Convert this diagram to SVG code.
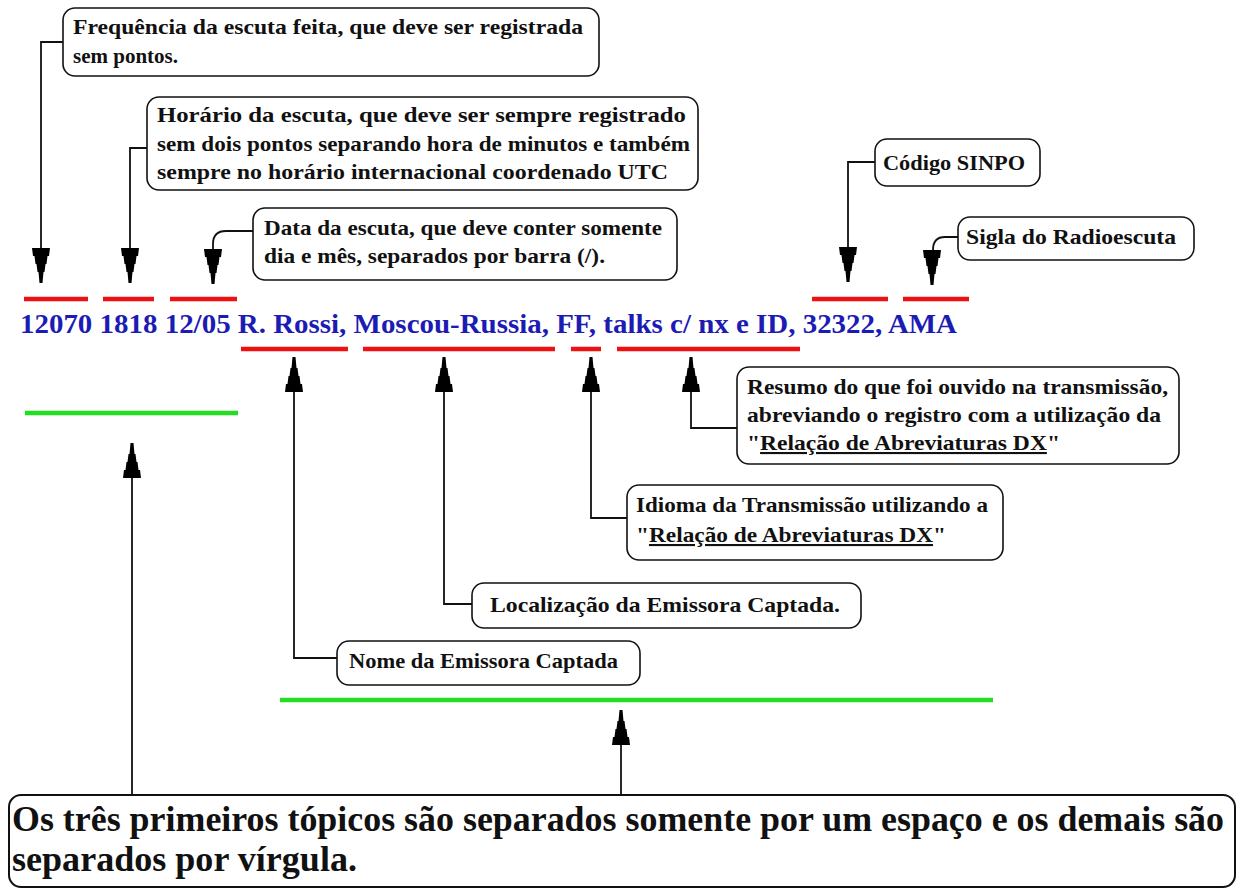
<svg xmlns="http://www.w3.org/2000/svg" width="1243" height="892" viewBox="0 0 1243 892">
<defs>
<style>
.box{fill:#fff;stroke:#111;stroke-width:1.6}
.ff{font-family:"Liberation Serif","DejaVu Serif Condensed","DejaVu Serif",serif;font-weight:bold;font-stretch:condensed}
.t{font-size:21px;fill:#111}
.main{font-size:27px;fill:#1c1cb4}
.big{font-size:35px;fill:#111}
.c{fill:none;stroke:#111;stroke-width:1.8}
.red{stroke:#ee1111;stroke-width:4.5}
.green{stroke:#22dd22;stroke-width:4.5}
.u{text-decoration:underline}
</style>
<path id="ad" d="M-9,-35 L9,-35 L8,-27 L6.5,-27 L5.5,-19 L4.5,-19 L3.5,-11 L2.5,-11 L1.5,0 L-1.5,0 L-2.5,-11 L-3.5,-11 L-4.5,-19 L-5.5,-19 L-6.5,-27 L-8,-27 Z" fill="#000"/>
<path id="au" d="M-9,35 L9,35 L8,27 L6.5,27 L5.5,19 L4.5,19 L3.5,11 L2.5,11 L1.5,0 L-1.5,0 L-2.5,11 L-3.5,11 L-4.5,19 L-5.5,19 L-6.5,27 L-8,27 Z" fill="#000"/>
</defs>
<rect width="1243" height="892" fill="#fff"/>

<g id="connectors">
<path class="c" d="M63,42 H41 V250"/>
<path class="c" d="M147,148 H130 V250"/>
<path class="c" d="M253,231 H226 Q213,231 213,244 V251"/>
<path class="c" d="M875,162 H848 V249"/>
<path class="c" d="M958,237 H945 Q933,237 933,250 V252"/>
<path class="c" d="M294,390 V658 H337"/>
<path class="c" d="M444,390 V604 H472"/>
<path class="c" d="M591,390 V518 H627"/>
<path class="c" d="M691,390 V428 H737"/>
<path class="c" d="M132,476 V795"/>
<path class="c" d="M621,743 V795"/>
<use href="#ad" x="41" y="283"/>
<use href="#ad" x="130" y="283"/>
<use href="#ad" x="213" y="284"/>
<use href="#ad" x="848" y="282"/>
<use href="#ad" x="932" y="285"/>
<use href="#au" x="294" y="357"/>
<use href="#au" x="444" y="357"/>
<use href="#au" x="591" y="357"/>
<use href="#au" x="691" y="357"/>
<use href="#au" x="132" y="443"/>
<use href="#au" x="621" y="710"/>
</g>

<g id="marks">
<line class="red" x1="24" y1="299" x2="88" y2="299"/>
<line class="red" x1="103" y1="299" x2="154" y2="299"/>
<line class="red" x1="170" y1="299" x2="237" y2="299"/>
<line class="red" x1="812" y1="299" x2="888" y2="299"/>
<line class="red" x1="903" y1="299" x2="969" y2="299"/>
<line class="red" x1="241" y1="349" x2="348" y2="349"/>
<line class="red" x1="363" y1="349" x2="555" y2="349"/>
<line class="red" x1="571" y1="349" x2="601" y2="349"/>
<line class="red" x1="617" y1="349" x2="800" y2="349"/>
<line class="green" x1="25" y1="413" x2="238" y2="413"/>
<line class="green" x1="280" y1="700" x2="993" y2="700"/>
</g>

<g class="ff">
<g id="record">
<text class="main" x="20" y="333" textLength="937" lengthAdjust="spacingAndGlyphs">12070 1818 12/05 R. Rossi, Moscou-Russia, FF, talks c/ nx e ID, 32322, AMA</text>
</g>

<g id="n-frequencia">
<rect class="box" x="63" y="8" width="536" height="68" rx="12"/>
<text class="t" x="73" y="34" textLength="510" lengthAdjust="spacingAndGlyphs">Frequência da escuta feita, que deve ser registrada</text>
<text class="t" x="73" y="63" textLength="105" lengthAdjust="spacingAndGlyphs">sem pontos.</text>
</g>

<g id="n-horario">
<rect class="box" x="147" y="97" width="551" height="93" rx="12"/>
<text class="t" x="157" y="122" textLength="529" lengthAdjust="spacingAndGlyphs">Horário da escuta, que deve ser sempre registrado</text>
<text class="t" x="157" y="151" textLength="533" lengthAdjust="spacingAndGlyphs">sem dois pontos separando hora de minutos e também</text>
<text class="t" x="157" y="179" textLength="511" lengthAdjust="spacingAndGlyphs">sempre no horário internacional coordenado UTC</text>
</g>

<g id="n-data">
<rect class="box" x="253" y="208" width="424" height="72" rx="12"/>
<text class="t" x="264" y="235" textLength="398" lengthAdjust="spacingAndGlyphs">Data da escuta, que deve conter somente</text>
<text class="t" x="264" y="263" textLength="341" lengthAdjust="spacingAndGlyphs">dia e mês, separados por barra (/).</text>
</g>

<g id="n-sinpo">
<rect class="box" x="875" y="139" width="165" height="47" rx="12"/>
<text class="t" x="883" y="170" textLength="142" lengthAdjust="spacingAndGlyphs">Código SINPO</text>
</g>

<g id="n-sigla">
<rect class="box" x="958" y="217" width="236" height="43" rx="12"/>
<text class="t" x="966" y="244" textLength="210" lengthAdjust="spacingAndGlyphs">Sigla do Radioescuta</text>
</g>

<g id="n-resumo">
<rect class="box" x="737" y="367" width="442" height="97" rx="12"/>
<text class="t" x="747" y="394" textLength="421" lengthAdjust="spacingAndGlyphs">Resumo do que foi ouvido na transmissão,</text>
<text class="t" x="747" y="422" textLength="414" lengthAdjust="spacingAndGlyphs">abreviando o registro com a utilização da</text>
<text class="t" x="747" y="450" textLength="313" lengthAdjust="spacingAndGlyphs">"<tspan class="u">Relação de Abreviaturas DX</tspan>"</text>
</g>

<g id="n-idioma">
<rect class="box" x="627" y="485" width="376" height="75" rx="12"/>
<text class="t" x="636" y="512" textLength="352" lengthAdjust="spacingAndGlyphs">Idioma da Transmissão utilizando a</text>
<text class="t" x="636" y="542" textLength="310" lengthAdjust="spacingAndGlyphs">"<tspan class="u">Relação de Abreviaturas DX</tspan>"</text>
</g>

<g id="n-localizacao">
<rect class="box" x="472" y="583" width="389" height="45" rx="12"/>
<text class="t" x="490" y="612" textLength="350" lengthAdjust="spacingAndGlyphs">Localização da Emissora Captada.</text>
</g>

<g id="n-nome">
<rect class="box" x="337" y="641" width="303" height="44" rx="12"/>
<text class="t" x="349" y="668" textLength="269" lengthAdjust="spacingAndGlyphs">Nome da Emissora Captada</text>
</g>

<g id="n-nota">
<rect class="box" x="9" y="795" width="1226" height="92" rx="12" style="stroke-width:2"/>
<text class="big" x="12" y="831" textLength="1212" lengthAdjust="spacingAndGlyphs">Os três primeiros tópicos são separados somente por um espaço e os demais são</text>
<text class="big" x="12" y="871" textLength="345" lengthAdjust="spacingAndGlyphs">separados por vírgula.</text>
</g>
</g>
</svg>
